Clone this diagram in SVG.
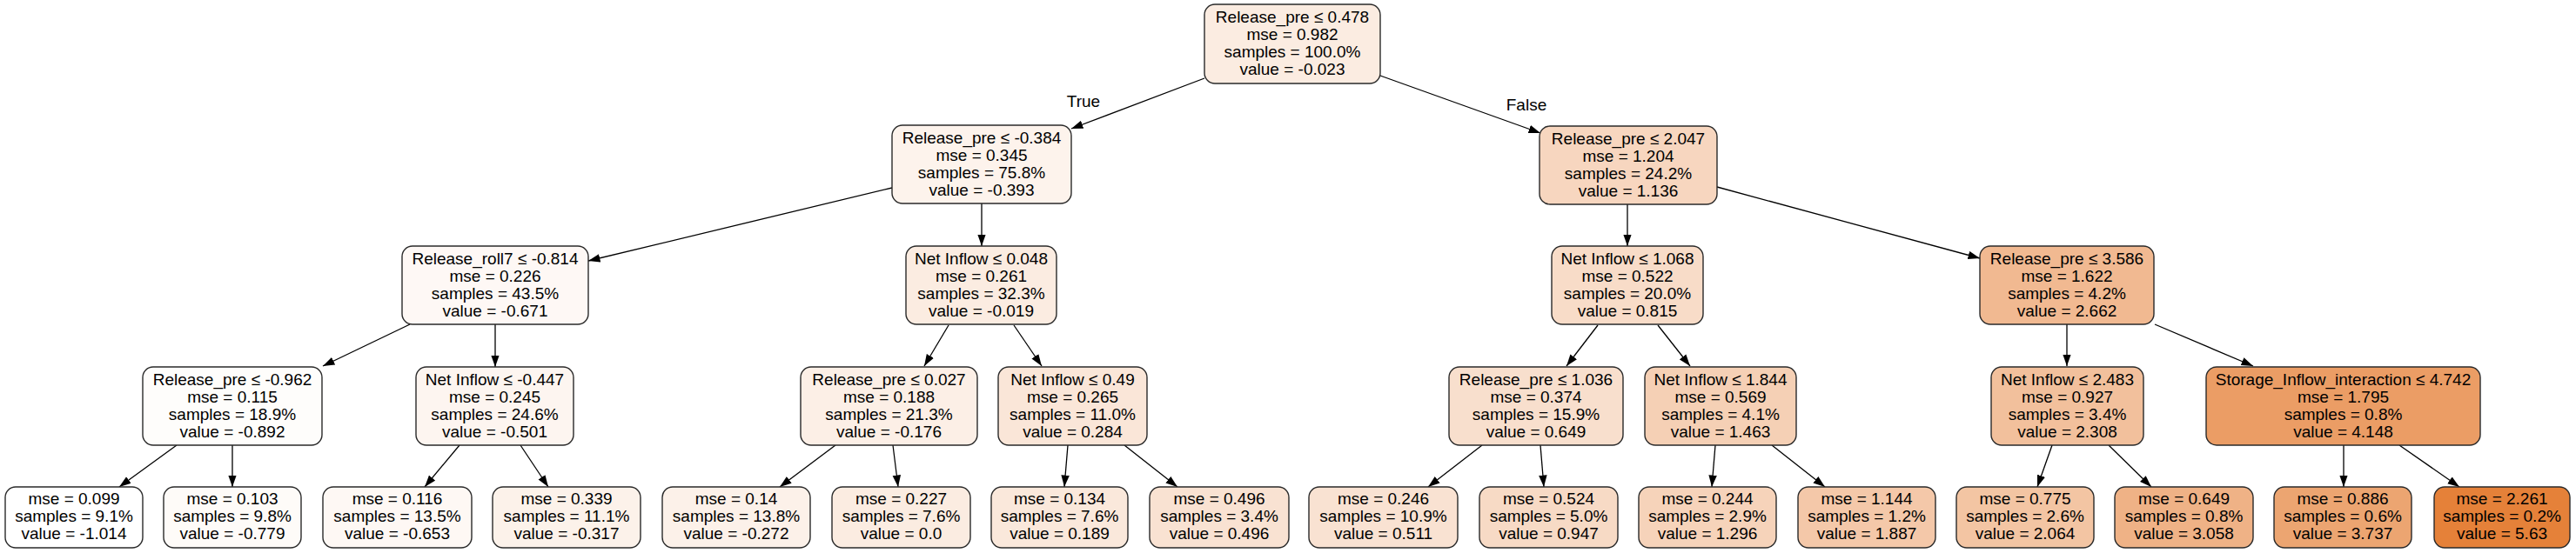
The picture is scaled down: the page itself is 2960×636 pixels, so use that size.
<svg xmlns="http://www.w3.org/2000/svg" width="2960" height="636" viewBox="0 0 2960 636">
<style>
.n rect{stroke:#2a2a2a;stroke-width:1.4}
text{font-family:"Liberation Sans",Arial,Helvetica,sans-serif;font-size:19px;fill:#000;text-anchor:middle}
.e line{stroke:#000;stroke-width:1.3;marker-end:url(#ah)}
</style>
<defs>
<marker id="ah" markerUnits="userSpaceOnUse" markerWidth="14" markerHeight="10" refX="13.5" refY="4.75" orient="auto" viewBox="0 0 14 9.5">
<path d="M0,0 L13.5,4.75 L0,9.5 z" fill="#000"/>
</marker>
</defs>
<rect width="2960" height="636" fill="#fff"/>
<g id="edges" class="e">
<line x1="1384" y1="90" x2="1231" y2="148"/>
<line x1="1586" y1="87" x2="1770" y2="153"/>
<line x1="1025" y1="216" x2="676" y2="300"/>
<line x1="1128" y1="234" x2="1128" y2="283"/>
<line x1="1870" y1="235" x2="1870" y2="283"/>
<line x1="1973" y1="215" x2="2275" y2="297"/>
<line x1="471" y1="373" x2="371" y2="421"/>
<line x1="569" y1="373" x2="569" y2="422"/>
<line x1="1090" y1="374" x2="1062" y2="421"/>
<line x1="1165" y1="374" x2="1197" y2="421"/>
<line x1="1836" y1="374" x2="1800" y2="421"/>
<line x1="1905" y1="374" x2="1942" y2="421"/>
<line x1="2375" y1="373" x2="2375" y2="421"/>
<line x1="2476" y1="373" x2="2589" y2="421"/>
<line x1="203" y1="512" x2="137" y2="560"/>
<line x1="267" y1="512" x2="267" y2="560"/>
<line x1="528" y1="512" x2="488" y2="560"/>
<line x1="598" y1="512" x2="630" y2="560"/>
<line x1="960" y1="512" x2="896" y2="560"/>
<line x1="1026" y1="512" x2="1032" y2="560"/>
<line x1="1227" y1="512" x2="1223" y2="560"/>
<line x1="1292" y1="512" x2="1353" y2="560"/>
<line x1="1703" y1="512" x2="1641" y2="560"/>
<line x1="1770" y1="512" x2="1774" y2="560"/>
<line x1="1971" y1="512" x2="1967" y2="560"/>
<line x1="2036" y1="512" x2="2097" y2="560"/>
<line x1="2358" y1="512" x2="2341" y2="560"/>
<line x1="2423" y1="512" x2="2472" y2="560"/>
<line x1="2693" y1="512" x2="2693" y2="560"/>
<line x1="2757" y1="512" x2="2826" y2="560"/>
<text x="1245" y="123">True</text>
<text x="1754" y="127">False</text>
</g>
<g id="n0" class="n"><rect x="1384" y="5" width="202" height="91" rx="12" fill="#fbece1"/>
<text x="1485" y="26">Release_pre ≤ 0.478</text><text x="1485" y="46">mse = 0.982</text><text x="1485" y="66">samples = 100.0%</text><text x="1485" y="86">value = -0.023</text></g>
<g id="n1" class="n"><rect x="1025" y="144" width="206" height="90" rx="12" fill="#fdf3ec"/>
<text x="1128" y="165">Release_pre ≤ -0.384</text><text x="1128" y="185">mse = 0.345</text><text x="1128" y="205">samples = 75.8%</text><text x="1128" y="225">value = -0.393</text></g>
<g id="n2" class="n"><rect x="1769" y="145" width="204" height="90" rx="12" fill="#f7d6bf"/>
<text x="1871" y="166">Release_pre ≤ 2.047</text><text x="1871" y="186">mse = 1.204</text><text x="1871" y="206">samples = 24.2%</text><text x="1871" y="226">value = 1.136</text></g>
<g id="n3" class="n"><rect x="462" y="283" width="214" height="90" rx="12" fill="#fef8f5"/>
<text x="569" y="304">Release_roll7 ≤ -0.814</text><text x="569" y="324">mse = 0.226</text><text x="569" y="344">samples = 43.5%</text><text x="569" y="364">value = -0.671</text></g>
<g id="n4" class="n"><rect x="1041" y="283" width="173" height="90" rx="12" fill="#fbece1"/>
<text x="1127.5" y="304">Net Inflow ≤ 0.048</text><text x="1127.5" y="324">mse = 0.261</text><text x="1127.5" y="344">samples = 32.3%</text><text x="1127.5" y="364">value = -0.019</text></g>
<g id="n5" class="n"><rect x="1783" y="283" width="174" height="90" rx="12" fill="#f8dcc8"/>
<text x="1870" y="304">Net Inflow ≤ 1.068</text><text x="1870" y="324">mse = 0.522</text><text x="1870" y="344">samples = 20.0%</text><text x="1870" y="364">value = 0.815</text></g>
<g id="n6" class="n"><rect x="2275" y="283" width="200" height="90" rx="12" fill="#f1b991"/>
<text x="2375" y="304">Release_pre ≤ 3.586</text><text x="2375" y="324">mse = 1.622</text><text x="2375" y="344">samples = 4.2%</text><text x="2375" y="364">value = 2.662</text></g>
<g id="n7" class="n"><rect x="164" y="422" width="206" height="90" rx="12" fill="#fefdfb"/>
<text x="267" y="443">Release_pre ≤ -0.962</text><text x="267" y="463">mse = 0.115</text><text x="267" y="483">samples = 18.9%</text><text x="267" y="503">value = -0.892</text></g>
<g id="n8" class="n"><rect x="478" y="422" width="181" height="90" rx="12" fill="#fdf5f0"/>
<text x="568.5" y="443">Net Inflow ≤ -0.447</text><text x="568.5" y="463">mse = 0.245</text><text x="568.5" y="483">samples = 24.6%</text><text x="568.5" y="503">value = -0.501</text></g>
<g id="n9" class="n"><rect x="920" y="422" width="203" height="90" rx="12" fill="#fcefe6"/>
<text x="1021.5" y="443">Release_pre ≤ 0.027</text><text x="1021.5" y="463">mse = 0.188</text><text x="1021.5" y="483">samples = 21.3%</text><text x="1021.5" y="503">value = -0.176</text></g>
<g id="n10" class="n"><rect x="1147" y="422" width="171" height="90" rx="12" fill="#fae6d8"/>
<text x="1232.5" y="443">Net Inflow ≤ 0.49</text><text x="1232.5" y="463">mse = 0.265</text><text x="1232.5" y="483">samples = 11.0%</text><text x="1232.5" y="503">value = 0.284</text></g>
<g id="n11" class="n"><rect x="1665" y="422" width="200" height="90" rx="12" fill="#f8dfcd"/>
<text x="1765" y="443">Release_pre ≤ 1.036</text><text x="1765" y="463">mse = 0.374</text><text x="1765" y="483">samples = 15.9%</text><text x="1765" y="503">value = 0.649</text></g>
<g id="n12" class="n"><rect x="1890" y="422" width="174" height="90" rx="12" fill="#f5d0b5"/>
<text x="1977" y="443">Net Inflow ≤ 1.844</text><text x="1977" y="463">mse = 0.569</text><text x="1977" y="483">samples = 4.1%</text><text x="1977" y="503">value = 1.463</text></g>
<g id="n13" class="n"><rect x="2288" y="422" width="175" height="90" rx="12" fill="#f2c09c"/>
<text x="2375.5" y="443">Net Inflow ≤ 2.483</text><text x="2375.5" y="463">mse = 0.927</text><text x="2375.5" y="483">samples = 3.4%</text><text x="2375.5" y="503">value = 2.308</text></g>
<g id="n14" class="n"><rect x="2535" y="422" width="315" height="90" rx="12" fill="#eb9d65"/>
<text x="2692.5" y="443">Storage_Inflow_interaction ≤ 4.742</text><text x="2692.5" y="463">mse = 1.795</text><text x="2692.5" y="483">samples = 0.8%</text><text x="2692.5" y="503">value = 4.148</text></g>
<g id="l1" class="n"><rect x="6" y="560" width="158" height="70" rx="12" fill="#ffffff"/>
<text x="85" y="580">mse = 0.099</text><text x="85" y="600">samples = 9.1%</text><text x="85" y="620">value = -1.014</text></g>
<g id="l2" class="n"><rect x="188" y="560" width="158" height="70" rx="12" fill="#fefbf8"/>
<text x="267" y="580">mse = 0.103</text><text x="267" y="600">samples = 9.8%</text><text x="267" y="620">value = -0.779</text></g>
<g id="l3" class="n"><rect x="371" y="560" width="171" height="70" rx="12" fill="#fef8f4"/>
<text x="456.5" y="580">mse = 0.116</text><text x="456.5" y="600">samples = 13.5%</text><text x="456.5" y="620">value = -0.653</text></g>
<g id="l4" class="n"><rect x="566" y="560" width="170" height="70" rx="12" fill="#fcf2ea"/>
<text x="651" y="580">mse = 0.339</text><text x="651" y="600">samples = 11.1%</text><text x="651" y="620">value = -0.317</text></g>
<g id="l5" class="n"><rect x="761" y="560" width="170" height="70" rx="12" fill="#fcf1e9"/>
<text x="846" y="580">mse = 0.14</text><text x="846" y="600">samples = 13.8%</text><text x="846" y="620">value = -0.272</text></g>
<g id="l6" class="n"><rect x="956" y="560" width="159" height="70" rx="12" fill="#fbece1"/>
<text x="1035.5" y="580">mse = 0.227</text><text x="1035.5" y="600">samples = 7.6%</text><text x="1035.5" y="620">value = 0.0</text></g>
<g id="l7" class="n"><rect x="1139" y="560" width="157" height="70" rx="12" fill="#fae8db"/>
<text x="1217.5" y="580">mse = 0.134</text><text x="1217.5" y="600">samples = 7.6%</text><text x="1217.5" y="620">value = 0.189</text></g>
<g id="l8" class="n"><rect x="1321" y="560" width="160" height="70" rx="12" fill="#f9e2d2"/>
<text x="1401" y="580">mse = 0.496</text><text x="1401" y="600">samples = 3.4%</text><text x="1401" y="620">value = 0.496</text></g>
<g id="l9" class="n"><rect x="1504" y="560" width="171" height="70" rx="12" fill="#f9e2d2"/>
<text x="1589.5" y="580">mse = 0.246</text><text x="1589.5" y="600">samples = 10.9%</text><text x="1589.5" y="620">value = 0.511</text></g>
<g id="l10" class="n"><rect x="1700" y="560" width="159" height="70" rx="12" fill="#f7dac5"/>
<text x="1779.5" y="580">mse = 0.524</text><text x="1779.5" y="600">samples = 5.0%</text><text x="1779.5" y="620">value = 0.947</text></g>
<g id="l11" class="n"><rect x="1883" y="560" width="158" height="70" rx="12" fill="#f6d3ba"/>
<text x="1962" y="580">mse = 0.244</text><text x="1962" y="600">samples = 2.9%</text><text x="1962" y="620">value = 1.296</text></g>
<g id="l12" class="n"><rect x="2066" y="560" width="158" height="70" rx="12" fill="#f4c8a9"/>
<text x="2145" y="580">mse = 1.144</text><text x="2145" y="600">samples = 1.2%</text><text x="2145" y="620">value = 1.887</text></g>
<g id="l13" class="n"><rect x="2248" y="560" width="158" height="70" rx="12" fill="#f3c5a3"/>
<text x="2327" y="580">mse = 0.775</text><text x="2327" y="600">samples = 2.6%</text><text x="2327" y="620">value = 2.064</text></g>
<g id="l14" class="n"><rect x="2430" y="560" width="159" height="70" rx="12" fill="#efb286"/>
<text x="2509.5" y="580">mse = 0.649</text><text x="2509.5" y="600">samples = 0.8%</text><text x="2509.5" y="620">value = 3.058</text></g>
<g id="l15" class="n"><rect x="2613" y="560" width="158" height="70" rx="12" fill="#eca571"/>
<text x="2692" y="580">mse = 0.886</text><text x="2692" y="600">samples = 0.6%</text><text x="2692" y="620">value = 3.737</text></g>
<g id="l16" class="n"><rect x="2797" y="560" width="156" height="70" rx="12" fill="#e58139"/>
<text x="2875" y="580">mse = 2.261</text><text x="2875" y="600">samples = 0.2%</text><text x="2875" y="620">value = 5.63</text></g>
</svg>
